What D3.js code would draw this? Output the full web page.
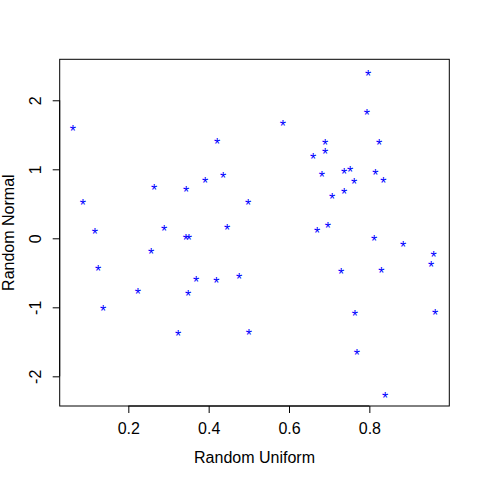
<!DOCTYPE html>
<html>
<head>
<meta charset="utf-8">
<script src="https://cdn.jsdelivr.net/npm/d3@7"></script>
<style>
  html, body { margin: 0; padding: 0; background: #ffffff; }
  svg { display: block; }
  text { font-family: "Liberation Sans", Arial, sans-serif; }
</style>
</head>
<body>
<svg id="chart" width="480" height="480"></svg>
<script>
const xValues = [0.062, 0.087, 0.117, 0.264, 0.289, 0.344, 0.343, 0.351, 0.391, 0.421,
                 0.436, 0.446, 0.498, 0.257, 0.797, 0.794, 0.585, 0.690, 0.824, 0.690,
                 0.660, 0.682, 0.737, 0.752, 0.815, 0.835, 0.762, 0.737, 0.707, 0.697,
                 0.670, 0.812, 0.884, 0.125, 0.369, 0.419, 0.476, 0.224, 0.349, 0.137,
                 0.324, 0.500, 0.960, 0.954, 0.730, 0.830, 0.764, 0.964, 0.769, 0.839];
const yValues = [1.609, 0.536, 0.116, 0.754, 0.159, 0.725, 0.029, 0.029, 0.855, 1.420,
                 0.928, 0.174, 0.536, -0.174, 2.406, 1.841, 1.681, 1.406, 1.406, 1.275,
                 1.203, 0.942, 0.986, 1.014, 0.971, 0.855, 0.841, 0.696, 0.623, 0.203,
                 0.130, 0.014, -0.072, -0.420, -0.580, -0.594, -0.536, -0.754, -0.783, -1.000,
                 -1.362, -1.348, -0.217, -0.362, -0.464, -0.449, -1.072, -1.058, -1.638, -2.261];
const xTicks = [0.2, 0.4, 0.6, 0.8];
const yTicks = [-2, -1, 0, 1, 2];
const xTickLabels = ["0.2", "0.4", "0.6", "0.8"];
const yTickLabels = ["-2", "-1", "0", "1", "2"];
const xLimits = [0.0292, 0.999];
const yLimits = [-2.430, 2.594];
const xTitle = "Random Uniform";
const yTitle = "Random Normal";

const svg = d3.select("#chart");
const plotLeft = 59.7, plotRight = 449.3, plotTop = 59.3, plotBottom = 406;

const x = d3.scaleLinear().domain(xLimits).range([plotLeft, plotRight]);
const y = d3.scaleLinear().domain(yLimits).range([plotBottom, plotTop]);

// x axis
const xAxis = svg.append("g")
  .attr("transform", `translate(0,${plotBottom})`)
  .call(d3.axisBottom(x).tickValues(xTicks).tickSize(7).tickPadding(10)
    .tickFormat((d, i) => xTickLabels[i]));
xAxis.select(".domain").attr("d", `M${x(xTicks[0])},0H${x(xTicks[xTicks.length-1])}`).attr("stroke", "#000");
xAxis.selectAll(".tick line").attr("stroke", "#000");
xAxis.selectAll(".tick text").attr("font-size", 16).attr("fill", "#000")
  .attr("font-family", "Liberation Sans, Arial, sans-serif");

// y axis
const yAxis = svg.append("g")
  .attr("transform", `translate(${plotLeft},0)`)
  .call(d3.axisLeft(y).tickValues(yTicks).tickSize(7)
    .tickFormat((d, i) => yTickLabels[i]));
yAxis.select(".domain").attr("d", `M0,${y(yTicks[0])}V${y(yTicks[yTicks.length-1])}`).attr("stroke", "#000");
yAxis.selectAll(".tick line").attr("stroke", "#000");
yAxis.selectAll(".tick text")
  .attr("font-size", 16).attr("fill", "#000")
  .attr("font-family", "Liberation Sans, Arial, sans-serif")
  .attr("x", null).attr("dy", null)
  .attr("text-anchor", "middle")
  .attr("transform", "translate(-18.5,0) rotate(-90)");

// box
svg.append("rect")
  .attr("x", plotLeft).attr("y", plotTop)
  .attr("width", plotRight - plotLeft).attr("height", plotBottom - plotTop)
  .attr("fill", "none").attr("stroke", "#000").attr("stroke-width", 1);

// points
const pts = xValues.map((v, i) => ({x: v, y: yValues[i]}));
svg.append("g").selectAll("text")
  .data(pts).join("text")
  .attr("x", d => x(d.x))
  .attr("y", d => y(d.y) + 9.3)
  .attr("text-anchor", "middle")
  .attr("font-size", 16)
  .attr("fill", "#0000ff")
  .text("*");

// titles
svg.append("text")
  .attr("x", (plotLeft + plotRight) / 2).attr("y", 462.5)
  .attr("text-anchor", "middle").attr("font-size", 16).attr("fill", "#000")
  .text(xTitle);
svg.append("text")
  .attr("transform", `translate(13.7,${(plotTop + plotBottom) / 2}) rotate(-90)`)
  .attr("text-anchor", "middle").attr("font-size", 16).attr("fill", "#000")
  .text(yTitle);
</script>
</body>
</html>
